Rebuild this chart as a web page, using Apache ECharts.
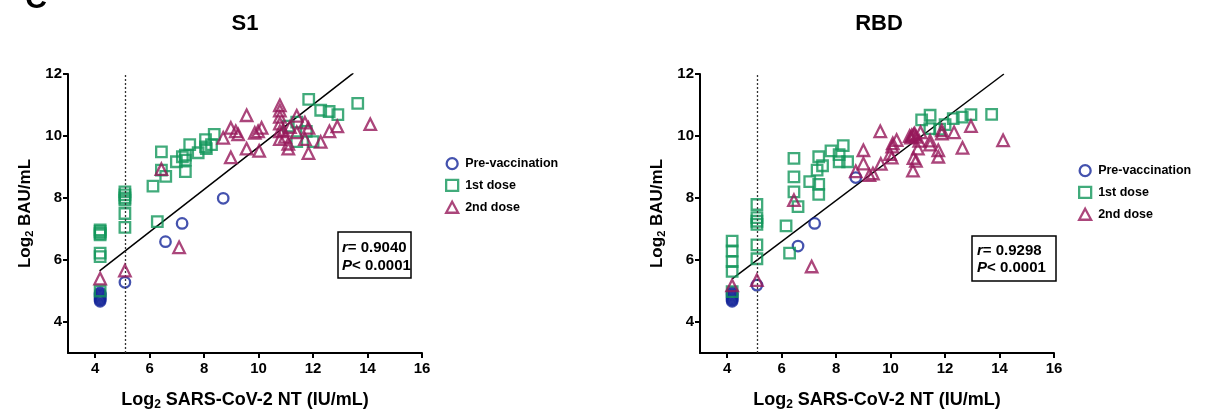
<!DOCTYPE html>
<html>
<head>
<meta charset="utf-8">
<script src="https://cdn.jsdelivr.net/npm/echarts@6/dist/echarts.min.js"></script>
<style>
html,body{margin:0;padding:0;background:#fff;}
#main{width:1220px;height:416px;}
</style>
</head>
<body>
<div id="main"></div>
<script>
// ---- data ----
const panelTitles = ['S1', 'RBD'];
const seriesNames = ['Pre-vaccination', '1st dose', '2nd dose'];
const xTicks = [4, 6, 8, 10, 12, 14, 16];
const yTicks = [4, 6, 8, 10, 12];
const cutoff = 5.09;

const s1Pre = [[4.18,4.67],[4.18,4.71],[4.18,4.75],[4.18,4.79],[4.18,4.83],[4.18,4.87],[4.18,4.91],[4.18,4.95],
  [5.09,5.28],[6.58,6.59],[7.19,7.18],[8.70,7.99]];
const s1First = [[4.18,6.97],[4.18,6.92],[4.18,6.86],[4.18,6.81],[4.18,6.22],[4.18,6.11],[4.18,5.0],
  [5.09,8.2],[5.09,8.1],[5.09,8.0],[5.09,7.93],[5.09,7.5],[5.09,7.05],
  [6.12,8.38],[6.28,7.24],[6.43,9.49],[6.43,8.9],[6.59,8.70],[6.98,9.17],[7.2,9.33],[7.31,9.38],[7.31,9.22],[7.31,8.85],
  [7.47,9.72],[7.78,9.46],[8.05,9.88],[8.05,9.65],[8.27,9.72],[8.37,10.05],[8.08,9.59],
  [11.09,10.32],[11.4,10.45],[11.4,9.82],[11.75,10.15],[12.0,9.82],[11.84,11.18],[12.28,10.83],[12.59,10.79],[12.91,10.69],[13.64,11.05]];
const s1Second = [[4.18,5.40],[5.09,5.66],[6.43,8.93],[7.08,6.41],
  [8.70,9.94],[8.98,9.31],[8.98,10.26],[9.16,10.15],[9.25,10.05],[9.56,10.67],[9.56,9.59],[9.86,10.10],[9.98,10.15],[10.11,10.26],[10.02,9.52],
  [10.78,10.99],[10.78,10.82],[10.78,10.62],[10.78,10.40],[10.78,10.15],[10.78,9.90],[10.97,9.97],[10.9,10.18],[11.09,9.59],[11.09,9.75],
  [11.15,10.29],[11.40,10.65],[11.40,10.12],[11.70,10.43],[11.83,10.26],[11.70,9.90],[11.83,9.45],[12.28,9.81],[12.60,10.15],[12.89,10.31],[14.10,10.38]];
const s1Fit = [[4.16,5.65],[13.48,12.03]];
const s1Stats = ['0.9040', '0.0001'];

const rbdPre = [[4.18,4.67],[4.18,4.71],[4.18,4.75],[4.18,4.79],[4.18,4.83],[4.18,4.87],[4.18,4.91],[4.18,4.95],
  [5.09,5.19],[6.60,6.45],[7.21,7.18],[8.72,8.66]];
const rbdFirst = [[4.18,6.61],[4.18,6.29],[4.18,5.95],[4.18,5.63],[4.18,4.98],
  [5.09,7.79],[5.09,7.37],[5.09,7.25],[5.09,7.15],[5.09,6.49],[5.09,6.04],
  [6.16,7.10],[6.29,6.22],[6.45,9.28],[6.45,8.68],[6.45,8.20],[6.60,7.72],[7.03,8.53],[7.30,8.90],[7.36,9.33],[7.36,8.44],[7.36,8.12],
  [7.5,9.04],[7.81,9.52],[8.11,9.17],[8.11,9.40],[8.26,9.69],[8.42,9.17],
  [11.14,10.52],[11.45,10.67],[11.44,10.24],[11.8,10.22],[12.0,10.37],[12.3,10.56],[12.63,10.61],[12.95,10.69],[13.71,10.70]];
const rbdSecond = [[4.18,5.18],[5.09,5.35],[6.45,7.93],[7.10,5.79],[8.72,8.86],[9.0,9.54],[9.0,9.11],[9.22,8.74],[9.35,8.79],[9.62,10.15],
  [9.64,9.10],[9.98,9.42],[10.04,9.30],[10.06,9.66],[10.08,9.76],[10.22,9.87],[10.7,10.0],[10.75,9.95],[10.78,10.02],[10.85,10.05],[10.88,10.08],
  [10.93,9.97],[11.1,10.12],[11.05,9.84],[11.0,9.59],[10.84,9.29],[10.93,9.20],[10.82,8.88],[11.45,9.85],[11.45,9.72],[11.75,9.54],[11.75,9.33],
  [11.88,10.18],[11.88,10.08],[12.33,10.12],[12.64,9.62],[12.95,10.32],[14.13,9.86]];
const rbdFit = [[4.18,5.39],[14.16,12.0]];
const rbdStats = ['0.9298', '0.0001'];

// ---- styles ----
const FONT = '"Liberation Sans", Arial, Helvetica, sans-serif';
const colors = ['#15279a', '#12965a', '#96185a'];
const symbols = ['circle', 'rect', 'triangle'];
const sizes = [10.5, 10.5, 11.5];

const chart = echarts.init(document.getElementById('main'));

function xAxisCfg(gi) {
  return {
    type: 'value', gridIndex: gi, min: 3, max: 16,
    axisLine: {show: true, onZero: false, lineStyle: {color: '#000', width: 2}},
    axisTick: {show: true, length: 5, lineStyle: {color: '#000', width: 2}, customValues: xTicks},
    axisLabel: {color: '#000', fontWeight: 'bold', fontSize: 15, fontFamily: FONT, margin: 8, customValues: xTicks},
    splitLine: {show: false},
    name: 'Log{sub|2} SARS-CoV-2 NT (IU/mL)',
    nameLocation: 'middle', nameGap: 37,
    nameTextStyle: {color: '#000', fontWeight: 'bold', fontSize: 18, fontFamily: FONT,
      rich: {sub: {fontSize: 12, fontWeight: 'bold', fontFamily: FONT, color: '#000', padding: [9, 0, 0, 0]}}}
  };
}
function yAxisCfg(gi) {
  return {
    type: 'value', gridIndex: gi, min: 3, max: 12,
    axisLine: {show: true, onZero: false, lineStyle: {color: '#000', width: 2}},
    axisTick: {show: true, length: 5, lineStyle: {color: '#000', width: 2}, customValues: yTicks},
    axisLabel: {color: '#000', fontWeight: 'bold', fontSize: 15, fontFamily: FONT, margin: 6, customValues: yTicks},
    splitLine: {show: false},
    name: 'Log{sub|2} BAU/mL',
    nameLocation: 'middle', nameGap: 33,
    nameTextStyle: {color: '#000', fontWeight: 'bold', fontSize: 17, fontFamily: FONT,
      rich: {sub: {fontSize: 11, fontWeight: 'bold', fontFamily: FONT, color: '#000', padding: [9, 0, 0, 0]}}}
  };
}

function scatter(name, data, k, gi) {
  return {
    type: 'scatter', name: name, data: data, xAxisIndex: gi, yAxisIndex: gi,
    symbol: symbols[k], symbolSize: sizes[k], silent: true,
    itemStyle: {color: 'rgba(0,0,0,0)', borderColor: colors[k], borderWidth: 2.3},
    z: 3 + k
  };
}
function fitLine(data, gi) {
  return {
    type: 'line', data: data, xAxisIndex: gi, yAxisIndex: gi, symbol: 'none', silent: true,
    lineStyle: {color: '#000', width: 1.5}, z: 2,
    markLine: {symbol: 'none', silent: true, label: {show: false},
      lineStyle: {type: [2, 2], color: '#333', width: 1.3}, data: [{xAxis: cutoff}]}
  };
}

function legendCfg(left, top) {
  return {
    orient: 'vertical', left: left, top: top, itemWidth: 12, itemHeight: 11, itemGap: 8.5,
    textStyle: {color: '#000', fontWeight: 'bold', fontSize: 12.5, fontFamily: FONT, padding: [0, 0, 0, 2]},
    selectedMode: false,
    data: seriesNames.map((n, k) => ({
      name: n, icon: symbols[k],
      itemStyle: {color: 'rgba(0,0,0,0)', borderColor: colors[k], borderWidth: 2.3}
    }))
  };
}

function statBox(x, y, w, h, stats, tx, ty1, ty2) {
  const rich = {i: {fontStyle: 'italic', fontWeight: 'bold', fontSize: 15, fontFamily: FONT, fill: '#000'},
                n: {fontWeight: 'bold', fontSize: 15, fontFamily: FONT, fill: '#000'}};
  return [
    {type: 'rect', shape: {x: x, y: y, width: w, height: h}, style: {fill: 'none', stroke: '#000', lineWidth: 1.5}, silent: true},
    {type: 'text', x: tx, y: ty1, silent: true, style: {text: '{i|r}{n|= ' + stats[0] + '}', rich: rich, verticalAlign: 'middle'}},
    {type: 'text', x: tx, y: ty2, silent: true, style: {text: '{i|P}{n|< ' + stats[1] + '}', rich: rich, verticalAlign: 'middle'}}
  ];
}

const option = {
  animation: false,
  backgroundColor: '#fff',
  grid: [
    {left: 68, top: 74, width: 354, height: 280},
    {left: 700, top: 74, width: 354, height: 280}
  ],
  xAxis: [xAxisCfg(0), xAxisCfg(1)],
  yAxis: [yAxisCfg(0), yAxisCfg(1)],
  legend: [legendCfg(440, 152), legendCfg(1073, 159)],
  series: [
    fitLine(s1Fit, 0),
    scatter(seriesNames[0], s1Pre, 0, 0),
    scatter(seriesNames[1], s1First, 1, 0),
    scatter(seriesNames[2], s1Second, 2, 0),
    fitLine(rbdFit, 1),
    scatter(seriesNames[0], rbdPre, 0, 1),
    scatter(seriesNames[1], rbdFirst, 1, 1),
    scatter(seriesNames[2], rbdSecond, 2, 1)
  ],
  graphic: [
    {type: 'text', x: 36, y: 0, silent: true, style: {text: 'C', font: 'bold 30px ' + FONT, fill: '#000', align: 'center', verticalAlign: 'middle'}},
    {type: 'text', x: 245, y: 24, silent: true, style: {text: panelTitles[0], font: 'bold 22px ' + FONT, fill: '#000', align: 'center', verticalAlign: 'middle'}},
    {type: 'text', x: 879, y: 24, silent: true, style: {text: panelTitles[1], font: 'bold 22px ' + FONT, fill: '#000', align: 'center', verticalAlign: 'middle'}}
  ].concat(statBox(338, 232, 73, 46, s1Stats, 342, 248, 266))
   .concat(statBox(972, 236, 84, 45, rbdStats, 977, 251, 268))
};
chart.setOption(option);
</script>
</body>
</html>
